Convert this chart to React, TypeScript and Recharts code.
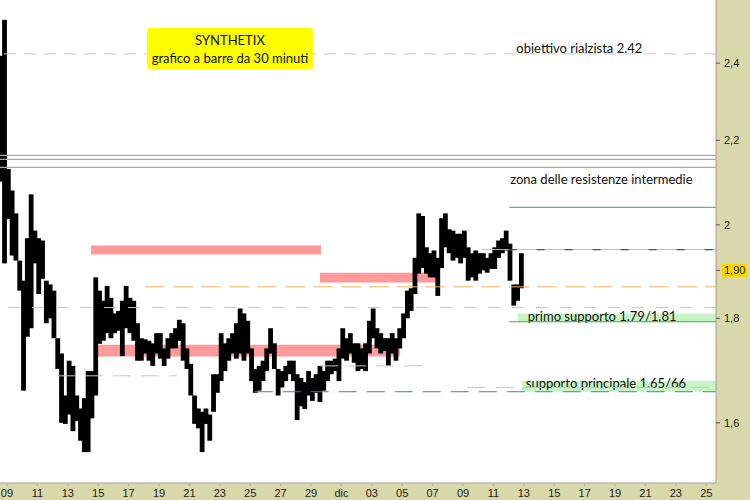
import React from 'react';
import { ComposedChart, Bar, XAxis, YAxis, ReferenceLine, ReferenceArea, CartesianGrid } from 'recharts';

// time axis: days from 9 Nov (0 = 09), bars every 0.25 day starting at -0.4
const START = -0.4;
const STEP = 0.25;

const barHigh = [
  2.42, 2.52, 2.13, 2.079, 2.026, 1.921, 1.878, 1.97, 2.07, 1.987,
  1.97, 1.965, 1.878, 1.87, 1.857, 1.76, 1.73, 1.65, 1.716, 1.706,
  1.65, 1.626, 1.645, 1.696, 1.696, 1.885, 1.857, 1.836, 1.867, 1.842,
  1.81, 1.815, 1.836, 1.867, 1.842, 1.836, 1.79, 1.76, 1.758, 1.755,
  1.75, 1.77, 1.77, 1.74, 1.76, 1.77, 1.78, 1.797, 1.79, 1.74,
  1.71, 1.65, 1.626, 1.62, 1.626, 1.615, 1.69, 1.69, 1.77, 1.75,
  1.76, 1.77, 1.79, 1.82, 1.81, 1.795, 1.74, 1.70, 1.706, 1.716,
  1.74, 1.78, 1.75, 1.70, 1.696, 1.706, 1.716, 1.716, 1.69, 1.683,
  1.675, 1.696, 1.683, 1.69, 1.706, 1.696, 1.716, 1.716, 1.72, 1.74,
  1.78, 1.76, 1.77, 1.75, 1.75, 1.74, 1.75, 1.795, 1.82, 1.78,
  1.77, 1.76, 1.76, 1.77, 1.76, 1.78, 1.81, 1.857, 1.862, 1.927,
  2.026, 2.02, 1.95, 1.937, 1.943, 1.927, 2.015, 2.026, 1.99, 1.987,
  1.98, 1.98, 1.987, 1.95, 1.937, 1.943, 1.937, 1.937, 1.927, 1.937,
  1.95, 1.965, 1.97, 1.987, 1.958, 1.87, 1.87, 1.937,
];

const barLow = [
  2.10, 1.915, 2.013, 1.932, 1.921, 1.857, 1.659, 1.763, 1.78, 1.915,
  1.85, 1.882, 1.79, 1.80, 1.76, 1.70, 1.60, 1.598, 1.615, 1.585,
  1.603, 1.568, 1.548, 1.548, 1.608, 1.65, 1.749, 1.755, 1.77, 1.76,
  1.77, 1.775, 1.725, 1.78, 1.77, 1.755, 1.716, 1.716, 1.73, 1.716,
  1.706, 1.73, 1.72, 1.706, 1.72, 1.74, 1.74, 1.755, 1.716, 1.70,
  1.65, 1.598, 1.59, 1.548, 1.598, 1.568, 1.62, 1.655, 1.677, 1.696,
  1.716, 1.73, 1.72, 1.73, 1.716, 1.73, 1.677, 1.655, 1.659, 1.677,
  1.696, 1.73, 1.70, 1.65, 1.665, 1.677, 1.69, 1.677, 1.605, 1.63,
  1.625, 1.65, 1.64, 1.655, 1.638, 1.659, 1.677, 1.69, 1.696, 1.677,
  1.72, 1.716, 1.73, 1.712, 1.696, 1.70, 1.696, 1.73, 1.76, 1.74,
  1.73, 1.735, 1.706, 1.73, 1.716, 1.74, 1.76, 1.80, 1.815, 1.85,
  1.893, 1.905, 1.893, 1.885, 1.885, 1.846, 1.905, 1.95, 1.937, 1.921,
  1.927, 1.915, 1.927, 1.878, 1.885, 1.878, 1.893, 1.90, 1.895, 1.903,
  1.903, 1.927, 1.937, 1.943, 1.878, 1.826, 1.836, 1.862,
];

const dayTicks = [0, 2, 4, 6, 8, 10, 12, 14, 16, 18, 20, 22, 24, 26, 28, 30, 32, 34, 36, 38, 40, 42, 44, 46];
const dayTickLabels = ['09', '11', '13', '15', '17', '19', '21', '23', '25', '27', '29', 'dic', '03', '05', '07', '09', '11', '13', '15', '17', '19', '21', '23', '25'];

const priceTicks = [1.6, 1.8, 1.9, 2, 2.2, 2.4];
const lastPrice = 1.9;

const X_MIN = -0.46;
const X_MAX = 46.64;
const Y_MIN = 1.495;
const Y_MAX = 2.577;

// levels
const targetLevel = 2.425;
const resistanceLines = [2.163, 2.153, 2.134];
const upperGreen = 2.04;
const midLevel = 1.945;
const orangeLevel = 1.865;
const grayDashLevel = 1.822;
const firstSupport = [1.793, 1.81];
const mainSupport = [1.657, 1.677];
const blueLevel = 1.657;
const minorLevels = [
  { v: 1.687, from: 3.29, to: 11.18 },
  { v: 1.706, from: 20.6, to: 27.5 },
  { v: 1.665, from: 30.3, to: X_MAX },
];
const salmonZones = [
  { from: 5.53, to: 20.66, lo: 1.934, hi: 1.954 },
  { from: 20.59, to: 28.29, lo: 1.874, hi: 1.895 },
  { from: 5.79, to: 25.86, lo: 1.724, hi: 1.747 },
];

const data = barHigh.map((h, i) => ({ t: +(START + STEP * i).toFixed(2), range: [barLow[i], h] }));

const FONT = 'Lato, "Open Sans", sans-serif';

const PriceBar = (props: any) => {
  const { x, y, width, height } = props;
  if (x == null || y == null) return null;
  const cx = x + width / 2;
  return <rect x={cx - 2.4} y={y} width={4.8} height={Math.max(1, height)} fill="#000" />;
};

const PriceTick = (props: any) => {
  const { x, y, payload } = props;
  const v = payload.value;
  const hi = Math.abs(v - lastPrice) < 1e-9;
  const txt = hi ? v.toFixed(2).replace('.', ',') : String(v).replace('.', ',');
  return (
    <g>
      {hi && <rect x={x - 2} y={y - 6.5} width={25} height={13} fill="#FFD700" />}
      <text x={x} y={y} dy={4} fontSize={11} fontFamily='"Liberation Sans", Arial, sans-serif' fill="#222">
        {txt}
      </text>
    </g>
  );
};

const DayTick = (props: any) => {
  const { x, y, payload } = props;
  const idx = dayTicks.indexOf(payload.value);
  return (
    <text x={x} y={y} dy={9} textAnchor="middle" fontSize={11} fontFamily='"Liberation Sans", Arial, sans-serif' fill="#222">
      {dayTickLabels[idx]}
    </text>
  );
};

const textLabel = (lines: string[], size: number, gap = 18) => (props: any) => {
  const vb = props.viewBox || {};
  const cx = vb.x + vb.width / 2;
  const cy = vb.y + vb.height / 2;
  const n = lines.length;
  return (
    <g>
      {lines.map((s, i) => (
        <text
          key={i}
          x={cx}
          y={cy + (i - (n - 1) / 2) * gap}
          textAnchor="middle"
          dominantBaseline="central"
          fontSize={size}
          fontFamily={FONT}
          fill="#111"
        >
          {s}
        </text>
      ))}
    </g>
  );
};

export default function App() {
  return (
    <div style={{ position: 'absolute', left: 0, top: 0, width: 750, height: 500, background: '#D8D8AA' }}>
      <ComposedChart width={750} height={500} data={data} margin={{ top: 0, right: 0, bottom: 0, left: 0 }}>
        <CartesianGrid fill="#FFFFFF" stroke="none" horizontal={false} vertical={false} />
        <XAxis
          type="number"
          dataKey="t"
          domain={[X_MIN, X_MAX]}
          allowDataOverflow
          ticks={dayTicks}
          tick={<DayTick />}
          height={17}
          axisLine={{ stroke: '#A0A0A0' }}
          tickLine={{ stroke: '#B8B8A0' }}
          tickSize={3}
          interval={0}
        />
        <YAxis
          orientation="right"
          scale="log"
          domain={[Y_MIN, Y_MAX]}
          allowDataOverflow
          ticks={priceTicks}
          tick={<PriceTick />}
          width={34}
          axisLine={{ stroke: '#A0A0A0' }}
          tickLine={{ stroke: '#555' }}
          tickSize={4}
          tickMargin={4}
          interval={0}
        />

        {salmonZones.map((z, i) => (
          <ReferenceArea key={'s' + i} x1={z.from} x2={z.to} y1={z.lo} y2={z.hi} fill="#FF9A9A" fillOpacity={1} stroke="none" />
        ))}
        <ReferenceArea x1={33.62} x2={X_MAX} y1={firstSupport[0]} y2={firstSupport[1]} fill="#C8F5C8" fillOpacity={1} stroke="none" />
        <ReferenceArea x1={33.88} x2={X_MAX} y1={mainSupport[0]} y2={mainSupport[1]} fill="#C8F5C8" fillOpacity={1} stroke="none" />

        <Bar dataKey="range" fill="#000" barSize={4} shape={<PriceBar />} isAnimationActive={false} />

        <ReferenceLine y={targetLevel} stroke="#C8C8C8" strokeDasharray="12 8" />
        {resistanceLines.map((v, i) => (
          <ReferenceLine key={'r' + i} y={v} stroke="#A8A8A8" strokeWidth={1.2} />
        ))}
        <ReferenceLine segment={[{ x: 33.03, y: upperGreen }, { x: X_MAX, y: upperGreen }]} stroke="#3DAA3D" />
        <ReferenceLine segment={[{ x: 31.25, y: midLevel }, { x: X_MAX, y: midLevel }]} stroke="#BDBDBD" />
        <ReferenceLine segment={[{ x: 33.0, y: midLevel }, { x: X_MAX, y: midLevel }]} stroke="#2E6B2E" strokeDasharray="8 20" strokeWidth={1.2} />
        <ReferenceLine y={grayDashLevel} stroke="#C8C8C8" strokeDasharray="12 12" />
        <ReferenceLine segment={[{ x: 9.08, y: orangeLevel }, { x: X_MAX, y: orangeLevel }]} stroke="#F5B060" strokeDasharray="20 8" />
        {minorLevels.map((m, i) => (
          <ReferenceLine key={'m' + i} segment={[{ x: m.from, y: m.v }, { x: m.to, y: m.v }]} stroke="#C8C8C8" strokeDasharray="18 10" />
        ))}
        <ReferenceLine segment={[{ x: 16.3, y: blueLevel }, { x: X_MAX, y: blueLevel }]} stroke="#4A78D0" strokeDasharray="18 10" />
        <ReferenceLine segment={[{ x: 33.03, y: firstSupport[0] }, { x: X_MAX, y: firstSupport[0] }]} stroke="#3DAA3D" />

        <ReferenceArea
          x1={9.21}
          x2={20.13}
          y1={2.384}
          y2={2.497}
          fill="#FFFF00"
          fillOpacity={1}
          stroke="none"
          radius={3}
          zIndex={450}
          label={{ content: textLabel(['SYNTHETIX', 'grafico a barre da 30 minuti'], 13) }}
        />
        <ReferenceArea x1={33.3} x2={42.0} y1={2.43} y2={2.452} fill="none" stroke="none" label={{ content: textLabel(['obiettivo rialzista 2.42'], 13) }} />
        <ReferenceArea x1={33} x2={45.2} y1={2.097} y2={2.117} fill="none" stroke="none" label={{ content: textLabel(['zona delle resistenze intermedie'], 13) }} />
        <ReferenceArea x1={33.5} x2={44.8} y1={1.799} y2={1.811} fill="none" stroke="none" label={{ content: textLabel(['primo supporto 1.79/1.81'], 13) }} />
        <ReferenceArea x1={33.5} x2={45.3} y1={1.667} y2={1.679} fill="none" stroke="none" label={{ content: textLabel(['supporto principale 1.65/66'], 13) }} />
      </ComposedChart>
    </div>
  );
}
